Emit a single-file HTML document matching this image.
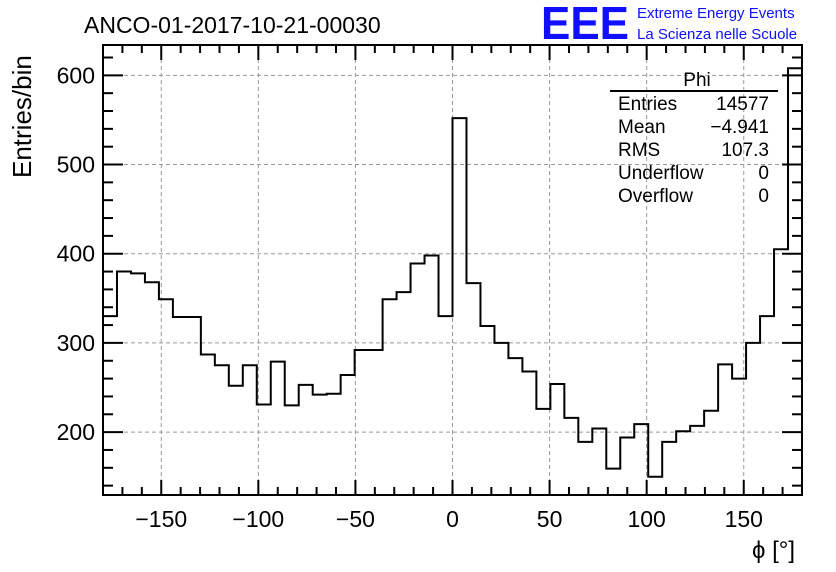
<!DOCTYPE html>
<html><head><meta charset="utf-8"><style>
body{margin:0;background:#fff;}
svg{display:block;font-family:"Liberation Sans",Arial,sans-serif;}
</style></head><body>
<svg id="chart" width="836" height="572" viewBox="0 0 836 572" xmlns="http://www.w3.org/2000/svg">
<rect width="836" height="572" fill="#fff"/>
<g id="grid"></g>
<g id="hist"></g>
<g id="axes"></g>
<text x="84" y="33" font-size="23">ANCO-01-2017-10-21-00030</text>
<text x="541" y="39" font-size="46" fill="#1010ff" font-weight="bold" textLength="88" lengthAdjust="spacingAndGlyphs">EEE</text>
<text x="637" y="18" font-size="15" fill="#1010ff">Extreme Energy Events</text>
<text x="637" y="39" font-size="15" fill="#1010ff">La Scienza nelle Scuole</text>
<text transform="translate(31,178) rotate(-90)" font-size="26">Entries/bin</text>
<text x="752" y="558" font-size="24">ϕ [°]</text>
<g font-size="19">
<text x="697" y="86" text-anchor="middle">Phi</text>
<line x1="610" y1="91" x2="778" y2="91" stroke="#000" stroke-width="2"/>
<text x="618" y="110">Entries</text><text x="769" y="110" text-anchor="end">14577</text>
<text x="618" y="133">Mean</text><text x="769" y="133" text-anchor="end">−4.941</text>
<text x="618" y="156">RMS</text><text x="769" y="156" text-anchor="end">107.3</text>
<text x="618" y="179">Underflow</text><text x="769" y="179" text-anchor="end">0</text>
<text x="618" y="202">Overflow</text><text x="769" y="202" text-anchor="end">0</text>
</g>
</svg>
<script>
const binLow = -180, binWidth = 7.2;
const counts = [330,380,378,368,349,329,329,287,275,252,275,231,279,230,253,242,243,264,292,292,349,357,389,398,330,552,367,319,300,283,268,226,254,216,189,204,159,194,209,150,189,201,207,224,276,260,300,330,405,608];
const xTicks = [-150,-100,-50,0,50,100,150];
const yTicks = [200,300,400,500,600];
const xMin=-180,xMax=180,yMin=129.5,yMax=634;
const L=103,R=802,T=45,B=495;
const sx=v=>L+(v-xMin)/(xMax-xMin)*(R-L);
const sy=v=>B-(v-yMin)/(yMax-yMin)*(B-T);
const NS="http://www.w3.org/2000/svg";
function mk(tag,attrs,parent){const e=document.createElementNS(NS,tag);for(const k in attrs)e.setAttribute(k,attrs[k]);parent.appendChild(e);return e;}
const grid=document.getElementById('grid'),hist=document.getElementById('hist'),axes=document.getElementById('axes');
xTicks.forEach(t=>{const l=mk('line',{x1:sx(t),x2:sx(t),y1:T,y2:B,stroke:'#999','stroke-dasharray':'4,3','stroke-width':1},grid);

});
yTicks.forEach(t=>{const l=mk('line',{x1:L,x2:R,y1:sy(t),y2:sy(t),stroke:'#999','stroke-dasharray':'4,3','stroke-width':1},grid);

});
let d='M'+sx(binLow)+','+sy(counts[0]);
counts.forEach((c,i)=>{const x0=sx(binLow+i*binWidth),x1=sx(binLow+(i+1)*binWidth);d+=' L'+x0+','+sy(c)+' L'+x1+','+sy(c);});
const p=mk('path',{d:d,fill:'none',stroke:'#000','stroke-width':2},hist);


const fr=mk('rect',{x:L,y:T,width:R-L,height:B-T,fill:'none',stroke:'#000','stroke-width':2},axes);


for(let v=-180;v<=180;v+=10){const major=v%50===0;const len=major?15:8;
mk('line',{x1:sx(v),x2:sx(v),y1:B,y2:B-len,stroke:'#000','stroke-width':2},axes);
mk('line',{x1:sx(v),x2:sx(v),y1:T,y2:T+len,stroke:'#000','stroke-width':2},axes);}
for(let v=140;v<=620;v+=20){const major=v%100===0;const len=major?20:10;
mk('line',{x1:L,x2:L+len,y1:sy(v),y2:sy(v),stroke:'#000','stroke-width':2},axes);
mk('line',{x1:R,x2:R-len,y1:sy(v),y2:sy(v),stroke:'#000','stroke-width':2},axes);}
xTicks.forEach(t=>{const e=mk('text',{x:sx(t),y:527,'font-size':23,'text-anchor':'middle'},axes);e.textContent=(t<0?'−':'')+Math.abs(t);

});
yTicks.forEach(t=>{const e=mk('text',{x:95,y:sy(t)+8,'font-size':23,'text-anchor':'end'},axes);e.textContent=t;

});
</script>
</body></html>
